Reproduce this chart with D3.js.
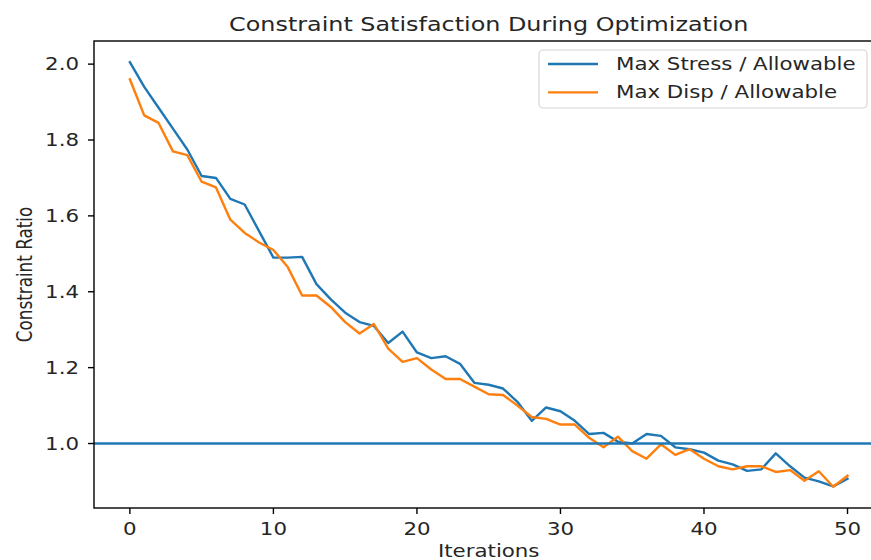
<!DOCTYPE html>
<html>
<head>
<meta charset="utf-8">
<script src="https://cdn.jsdelivr.net/npm/d3@7"></script>
<style>
  body { margin: 0; background: #fff; }
  svg { display: block; font-family: "DejaVu Sans", sans-serif; }
</style>
</head>
<body>
<svg id="chart"></svg>
<script>
// iteration index (x) for every sample
const iterations = [0,1,2,3,4,5,6,7,8,9,10,11,12,13,14,15,16,17,18,19,20,
  21,22,23,24,25,26,27,28,29,30,31,32,33,34,35,36,37,38,39,40,
  41,42,43,44,45,46,47,48,49,50];

const stressRatio = [2.005,1.94,1.885,1.83,1.775,1.705,1.70,1.645,1.63,1.56,1.49,
  1.49,1.492,1.42,1.38,1.345,1.32,1.31,1.265,1.295,1.24,
  1.225,1.23,1.21,1.16,1.155,1.145,1.11,1.06,1.095,1.085,
  1.06,1.025,1.028,1.005,1.00,1.025,1.02,0.99,0.985,0.976,
  0.955,0.945,0.928,0.932,0.974,0.94,0.91,0.90,0.887,0.907];

const dispRatio = [1.96,1.865,1.845,1.77,1.76,1.69,1.675,1.59,1.555,1.53,1.51,
  1.465,1.39,1.39,1.36,1.32,1.29,1.315,1.25,1.215,1.225,
  1.195,1.17,1.17,1.15,1.13,1.128,1.10,1.07,1.065,1.05,
  1.05,1.015,0.99,1.018,0.98,0.96,0.998,0.97,0.985,0.96,
  0.94,0.932,0.94,0.94,0.925,0.93,0.902,0.927,0.886,0.915];

const seriesNames = ["Max Stress / Allowable", "Max Disp / Allowable"];
const seriesColors = ["#1f77b4", "#ff7f0e"];
const limitValue = 1.0;

const xTickValues = [0,10,20,30,40,50];
const yTickValues = [1.0,1.2,1.4,1.6,1.8,2.0];

const W = 871, H = 560;
const SX = 1.27;          // picture is stretched sideways, glyphs too
const FS = 16.8;          // base font size
const margin = {top: 41, left: 94, bottom: 52};
const plotRight = 883.4;  // frame runs past the canvas edge

const svg = d3.select('#chart')
    .attr('width', W)
    .attr('height', H);

// text helper: stretched glyphs
function label(g, x, y, txt, size, anchor, extra) {
  return g.append('text')
      .attr('transform', `translate(${x},${y}) scale(${SX},1)` + (extra || ''))
      .attr('text-anchor', anchor)
      .attr('font-size', size)
      .attr('fill', '#262626')
      .text(txt);
}

const xScale = d3.scaleLinear()
    .domain([-2.5, 52.5])
    .range([margin.left, plotRight]);

const allVals = stressRatio.concat(dispRatio);
const yMin = d3.min(allVals), yMax = d3.max(allVals);
const pad = (yMax - yMin) * 0.05;
const yScale = d3.scaleLinear()
    .domain([yMin - pad, yMax + pad])
    .range([H - margin.bottom, margin.top]);

const plotBottom = H - margin.bottom;

// lines
const line = vals => d3.line()
    .x((d, i) => xScale(iterations[i]))
    .y(d => yScale(d))(vals);

[stressRatio, dispRatio].forEach((vals, k) => {
  svg.append('path')
      .attr('d', line(vals))
      .attr('fill', 'none')
      .attr('stroke', seriesColors[k])
      .attr('stroke-width', 2.4)
      .attr('stroke-linejoin', 'round')
      .attr('stroke-linecap', 'square');
});

// allowable limit
svg.append('line')
    .attr('x1', margin.left).attr('x2', plotRight)
    .attr('y1', yScale(limitValue)).attr('y2', yScale(limitValue))
    .attr('stroke', seriesColors[0])
    .attr('stroke-width', 2.4);

// frame
svg.append('rect')
    .attr('x', margin.left).attr('y', margin.top)
    .attr('width', plotRight - margin.left)
    .attr('height', plotBottom - margin.top)
    .attr('fill', 'none')
    .attr('stroke', '#000')
    .attr('stroke-width', 1.4);

// x ticks
const xAxisG = svg.append('g');
xTickValues.forEach(v => {
  const x = xScale(v);
  xAxisG.append('line')
      .attr('x1', x).attr('x2', x)
      .attr('y1', plotBottom).attr('y2', plotBottom + 6)
      .attr('stroke', '#000').attr('stroke-width', 1.4);
  label(xAxisG, x, plotBottom + 27, d3.format('d')(v), FS, 'middle');
});

// y ticks
const yAxisG = svg.append('g');
yTickValues.forEach(v => {
  const y = yScale(v);
  yAxisG.append('line')
      .attr('x1', margin.left - 6).attr('x2', margin.left)
      .attr('y1', y).attr('y2', y)
      .attr('stroke', '#000').attr('stroke-width', 1.4);
  label(yAxisG, margin.left - 15, y + 6, d3.format('.1f')(v), FS, 'end');
});

// titles
label(svg, (margin.left + plotRight) / 2, 31, 'Constraint Satisfaction During Optimization', 18.8, 'middle');
label(svg, (margin.left + plotRight) / 2, 557, 'Iterations', FS, 'middle');
label(svg, 32, (margin.top + plotBottom) / 2, 'Constraint Ratio', FS, 'middle', ' rotate(-90)');

// legend
const lg = svg.append('g');
lg.append('rect')
    .attr('x', 539).attr('y', 50)
    .attr('width', 328).attr('height', 58)
    .attr('rx', 4)
    .attr('fill', '#fff').attr('fill-opacity', 0.8)
    .attr('stroke', '#d6d6d6').attr('stroke-width', 1.2);
seriesNames.forEach((name, k) => {
  const y = 64 + k * 28.4;
  lg.append('line')
      .attr('x1', 548).attr('x2', 598)
      .attr('y1', y).attr('y2', y)
      .attr('stroke', seriesColors[k])
      .attr('stroke-width', 2.4);
  label(lg, 616, y + 6, name, FS, 'start');
});
</script>
</body>
</html>
